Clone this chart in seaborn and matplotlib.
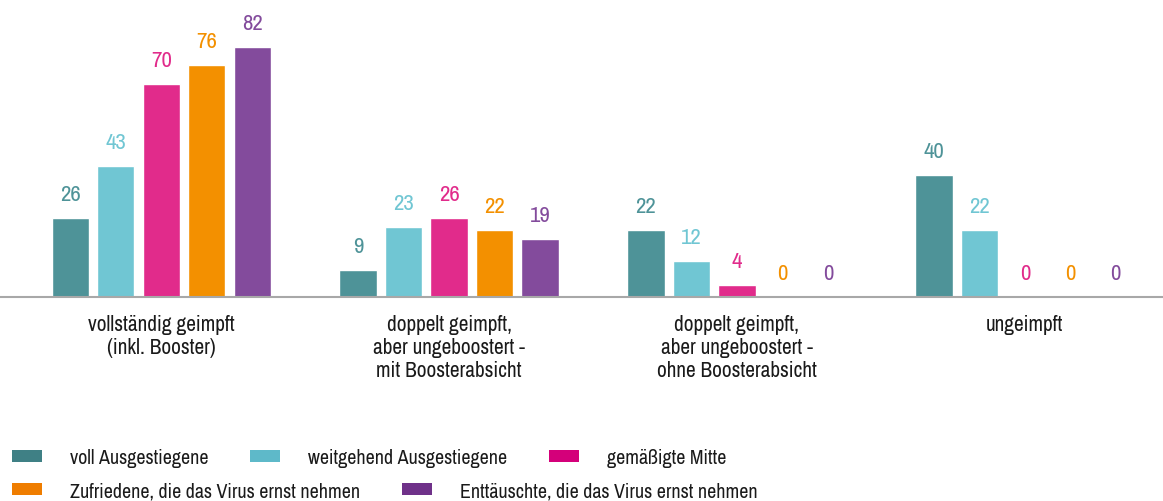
import matplotlib
matplotlib.use("Agg")
import matplotlib.pyplot as plt
from matplotlib.patches import Patch
import pandas as pd
import seaborn as sns

# Kategorien und Werte (Prozent)
categories = ["vollständig geimpft\n(inkl. Booster)",
              "doppelt geimpft,\naber ungeboostert -\nmit Boosterabsicht",
              "doppelt geimpft,\naber ungeboostert -\nohne Boosterabsicht",
              "ungeimpft"]
groups = ["voll Ausgestiegene", "weitgehend Ausgestiegene", "gemäßigte Mitte",
          "Zufriedene, die das Virus ernst nehmen",
          "Enttäuschte, die das Virus ernst nehmen"]
voll = [26, 9, 22, 40]
weitgehend = [43, 23, 12, 22]
mitte = [70, 26, 4, 0]
zufriedene = [76, 22, 0, 0]
enttaeuschte = [82, 19, 0, 0]

bar_colors = ["#4E9398", "#70C6D3", "#E12B8B", "#F39000", "#834B9C"]
legend_colors = ["#3F8085", "#5EB9C9", "#D4007A", "#EF7D00", "#6F3189"]

rows = []
for g, vals in zip(groups, [voll, weitgehend, mitte, zufriedene, enttaeuschte]):
    for c, v in zip(categories, vals):
        rows.append({"Kategorie": c, "Gruppe": g, "Wert": v})
df = pd.DataFrame(rows)

sns.set_style("white")
plt.rcParams["font.family"] = ["Archivo Narrow", "DejaVu Sans"]
plt.rcParams["text.color"] = "#1a1a1a"
plt.rcParams["xtick.color"] = "#1a1a1a"

fig = plt.figure(figsize=(11.63, 5.02), dpi=100)
ax = fig.add_axes([0, 0.406, 1, 0.594])

sns.barplot(data=df, x="Kategorie", y="Wert", hue="Gruppe", order=categories,
            hue_order=groups, palette=bar_colors, width=0.79, gap=0.18,
            saturation=1, legend=False, ax=ax)

for cont, col in zip(ax.containers, bar_colors):
    ax.bar_label(cont, labels=[f"{v:.0f}" for v in cont.datavalues],
                 padding=10, color=col, fontsize=16.5)

ax.set_ylim(0, 97.7)
ax.set_xlim(-0.56, 3.48)
ax.set_xlabel("")
ax.set_ylabel("")
ax.set_yticks([])
ax.tick_params(axis="x", length=0, pad=12, labelsize=15.3)
for lbl in ax.get_xticklabels():
    lbl.set_linespacing(1.2)
for s in ["top", "right", "left"]:
    ax.spines[s].set_visible(False)
ax.spines["bottom"].set_color("#A8A8A8")
ax.spines["bottom"].set_linewidth(1.5)

handles = [Patch(facecolor=c, edgecolor="none") for c in legend_colors]
kw = dict(frameon=False, fontsize=14.4, handlelength=1.5, handleheight=0.55,
          handletextpad=1.4, columnspacing=2.1, borderaxespad=0, borderpad=0)
leg1 = fig.legend(handles[:3], groups[:3], ncol=3, loc="center left",
                  bbox_to_anchor=(0.01, 1 - 459 / 502), **kw)
leg2 = fig.legend(handles[3:], groups[3:], ncol=2, loc="center left",
                  bbox_to_anchor=(0.01, 1 - 492 / 502), **kw)

fig.savefig("out.png", dpi=100)
